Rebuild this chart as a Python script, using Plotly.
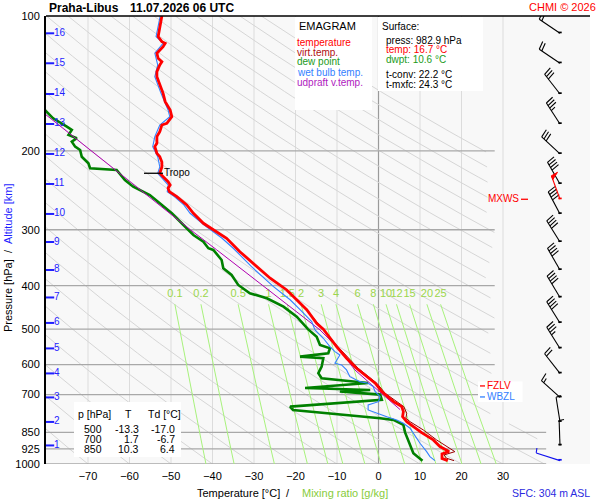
import math
import numpy as np
import plotly.graph_objects as go

FONT = "Liberation Sans, Arial, sans-serif"

# -------------------------------------------------
# sounding (p in hPa, T in deg C)
# -------------------------------------------------
temp_p = [100, 105.7, 111.2, 114.1, 115.1, 117.1, 121.1, 124.3, 126.5, 128.6, 133.1, 136.6, 141.3, 148.8,
          155.3, 162.1, 167.8, 173.6, 175.1, 181.2, 185.9, 192.4, 195.7, 202.5, 206.1, 211.8, 217.3, 224.4,
          228.4, 234.3, 238.3, 242.4, 246.7, 253.1, 264.1, 275.6, 290.2, 300.3, 313.4, 335.8, 356.4, 384.9,
          408.8, 429.9, 452.5, 485.0, 500, 547.1, 580.7, 611.3, 638.3, 660.3, 689.4, 700, 725.8, 744.7,
          764.1, 784.0, 804.4, 850, 883.6, 914.5, 937.4, 949.5, 971.8, 982.9]
temp_t = [-52.2, -52.7, -53.1, -52.2, -51.4, -51.9, -53.4, -53.1, -52.2, -52.7, -53.4, -53.4, -52.8, -51.9,
          -51.4, -50.2, -49.8, -51.0, -52.2, -52.7, -53.4, -53.4, -53.9, -53.4, -52.7, -52.2, -52.2, -52.7,
          -51.9, -50.7, -50.2, -50.7, -50.4, -48.6, -46.2, -44.6, -42.2, -39.8, -36.6, -33.4, -30.2, -26.1,
          -22.1, -19.7, -17.3, -14.9, -13.3, -10.1, -7.7, -5.3, -2.8, -0.8, 0.8, 1.7, 3.6, 5.6,
          6.0, 5.8, 6.8, 10.3, 13.2, 14.8, 17.0, 15.3, 15.3, 16.7]

virt_p = [429.9, 485.0, 547.1, 611.3, 660.3, 695.1, 725.8, 744.7, 770.4, 790.4, 804.4, 839.5, 883.6,
          922.2, 938.5, 954.6, 970.9, 982.9]
virt_t = [-19.4, -14.6, -9.8, -4.9, -0.4, 1.6, 4.4, 6.1, 6.8, 6.6, 7.6, 10.8, 14.0,
          17.2, 18.4, 15.8, 16.4, 18.2]

dwpt_p = [155.0, 163.5, 169.2, 176.6, 179.6, 184.3, 187.5, 190.8, 195.7, 199.1, 206.1, 213.2, 218.7,
          220.6, 232.3, 240.4, 250.9, 261.8, 275.6, 292.7, 308.2, 318.9, 329.9, 332.8, 350.4, 365.7,
          378.5, 398.4, 415.8, 426.6, 445.4, 469.0, 493.6, 500, 519.7, 542.3, 551.5, 565.9, 575.9,
          580.7, 606.3, 627.2, 643.5, 659.3, 676.4, 683.4, 688.7, 700, 719.4, 744.7, 757.5, 784.0,
          790.4, 797.3, 818.1, 850, 868.7, 914.6, 946.2, 982.9]
dwpt_t = [-82.5, -80.1, -78.4, -75.1, -73.9, -74.7, -72.7, -73.9, -73.1, -71.9, -71.5, -69.9, -69.5,
          -63.1, -61.1, -59.1, -55.1, -52.7, -49.8, -47.0, -44.6, -42.2, -41.0, -39.8, -37.8, -37.4,
          -35.4, -33.8, -31.0, -26.9, -22.9, -19.7, -17.7, -17.0, -14.9, -14.1, -11.7, -12.1, -18.9,
          -13.3, -13.7, -14.5, -13.7, -2.5, -17.7, -2.0, -9.3, 0.4, 0.8, -21.3, -20.6, -2.8,
          0.4, 3.6, 6.0, 6.4, 6.8, 7.6, 8.4, 10.6]

wetb_p = [100, 111.2, 115.1, 121.1, 128.6, 136.6, 148.8, 162.1, 167.8, 175.1, 185.9, 195.7, 206.1,
          217.3, 224.4, 238.3, 246.7, 253.1, 264.1, 275.6, 292.7, 313.4, 329.9, 362.7, 401.9, 429.9,
          452.5, 481.1, 502.1, 524.0, 547.1, 561.4, 570.9, 585.8, 595.8, 601.0, 616.6, 638.2, 654.8,
          660.3, 671.9, 689.4, 707.4, 725.8, 738.2, 757.5, 770.4, 784.0, 797.3, 810.9, 832.1, 853.7,
          898.8, 938.5, 962.8, 982.9]
wetb_t = [-52.6, -53.6, -51.9, -53.9, -53.2, -53.9, -52.4, -50.7, -50.3, -52.7, -53.9, -54.4, -53.2,
          -52.7, -53.2, -50.7, -50.9, -49.2, -46.9, -45.4, -42.0, -37.7, -35.0, -30.6, -25.3, -21.3,
          -18.9, -16.1, -15.3, -13.3, -11.7, -10.5, -9.3, -10.1, -10.5, -8.9, -7.7, -6.9, -4.5,
          -2.5, -1.3, -0.8, 0.4, 0.0, -2.5, -2.5, -0.4, 2.0, 4.4, 6.0, 7.6, 8.4,
          10.0, 11.6, 12.4, 13.6]

updr_p = [154.0, 166.3, 199.0, 257.3, 300.1, 332.6, 378.5, 429.9, 457.5, 502.1, 551.5, 616.6, 666.1,
          708.6, 756.1]
updr_t = [-84.6, -80.1, -69.5, -54.4, -45.3, -39.0, -31.2, -23.4, -19.7, -14.1, -9.7, -5.7, -1.6,
          1.6, 5.2]

# altitude marks (km) and winds at those levels
alt_km = list(range(1, 17))
alt_p = [909.0, 805.6, 710.2, 627.8, 552.1, 484.3, 424.9, 368.9, 319.5, 276.6, 237.1, 203.2, 174.2,
         149.3, 127.5, 109.3]
wind_dir = [358, 351, 312, 322, 328, 328, 329, 330, 328, 332, 330, 313, 327, 322, 304, 304]
wind_spd = [5, 5, 15, 20, 35, 40, 40, 40, 40, 40, 40, 30, 35, 30, 20, 20]

sfc_p = 982.9
sfc_wdir, sfc_wspd = 288, 5
mxws_p, mxws_dir, mxws_spd = 256.5, 340, 50

tropo_p = 224.4
fzlv_p = 669.5
wbzl_p = 708.5

sfc_press, sfc_temp, sfc_dwpt = 982.9, 16.7, 10.6
t_conv, t_mxfc = 22.2, 24.3
sfc_height = 304

tbl_p = [500, 700, 850]
tbl_t = [-13.3, 1.7, 10.3]
tbl_td = [-17.0, -6.7, 6.4]

# diagram background
p_ticks = [100, 200, 300, 400, 500, 600, 700, 850, 925, 1000]
t_ticks = list(range(-70, 31, 10))
mix_ratios = [0.1, 0.2, 0.5, 1, 1.5, 2, 3, 4, 6, 8, 10, 12, 15, 20, 25]
theta_lines = list(range(-80, 201, 10))

# -------------------------------------------------
# page geometry (pixels)
# -------------------------------------------------
L, R, TOP, BOT = 46, 590, 16, 464
T0_PX, DEG_PX = 378.5, 4.15
BARB_X, STAFF = 560, 25


def px(x):
    return (x - L) / (R - L)


def py(y):
    return (BOT - y) / (BOT - TOP)


def grid_edge(p):
    return 28.0 if p < 800 else 40.4


def td_from_w(w, p):
    e = w * p / (622.0 + w)
    a = math.log(e / 6.112)
    return 243.5 * a / (17.67 - a)


fig = go.Figure()


def add_line(x, y, color, width, xaxis="x", dash=None):
    fig.add_trace(go.Scatter(x=x, y=y, mode="lines", xaxis=xaxis, yaxis="y",
                             line=dict(color=color, width=width, dash=dash), hoverinfo="skip"))


# isotherms
xs, ys = [], []
for t in t_ticks:
    if t != 0:
        xs += [t, t, None]
        ys += [100, 1000, None]
add_line(xs, ys, "#dcdcdc", 1)
add_line([0, 0], [100, 1000], "#9a9a9a", 1.2)

# dry adiabats
p_grid = np.geomspace(100, 1000, 90)
xs, ys = [], []
for th in theta_lines:
    for p in p_grid:
        t = (th + 273.15) * (p / 1000.0) ** 0.286 - 273.15
        xs.append(t if t <= grid_edge(p) else None)
        ys.append(p)
    xs.append(None)
    ys.append(None)
add_line(xs, ys, "#d6d6d6", 1)

# isobars
xs, ys = [], []
for p in p_ticks[1:]:
    xs += [(L - T0_PX) / DEG_PX, grid_edge(p), None]
    ys += [p, p, None]
add_line(xs, ys, "#a8a8a8", 1.3)

# mixing ratio lines
mix_p = np.geomspace(440, 1000, 20)
xs, ys = [], []
for w in mix_ratios:
    xs += [td_from_w(w, p) for p in mix_p] + [None]
    ys += list(mix_p) + [None]
add_line(xs, ys, "#a8f27c", 1)
fig.add_trace(go.Scatter(
    x=[td_from_w(w, 440) for w in mix_ratios], y=[417] * len(mix_ratios),
    text=[f"{w:g}" for w in mix_ratios], mode="text", textposition="middle center",
    textfont=dict(size=11, color="#9bd64c", family=FONT), hoverinfo="skip"))

# altitude marks on the left
fig.add_trace(go.Scatter(
    x=[50] * len(alt_km), y=alt_p, xaxis="x2", mode="markers", hoverinfo="skip",
    marker=dict(symbol="line-ew", size=6, line=dict(color="#1f1fff", width=2))))
fig.add_trace(go.Scatter(
    x=[54] * len(alt_km), y=alt_p, xaxis="x2", mode="text", text=[str(k) for k in alt_km],
    textposition="middle right", textfont=dict(size=10, color="#1f1fff", family=FONT),
    hoverinfo="skip"))

# profiles
add_line(dwpt_t, dwpt_p, "#008000", 2.6)
add_line(updr_t, updr_p, "#b000b0", 1)
add_line(wetb_t, wetb_p, "#3380ff", 1.1)
add_line(virt_t, virt_p, "#990000", 1)
add_line(temp_t, temp_p, "#ff0000", 2.8)

# tropopause
add_line([144, 163], [tropo_p, tropo_p], "black", 1.3, xaxis="x2")
fig.add_trace(go.Scatter(x=[164], y=[tropo_p], xaxis="x2", mode="text", text=["Tropo"],
                         textposition="middle right", hoverinfo="skip",
                         textfont=dict(size=10, color="black", family=FONT)))

# max wind label
add_line([521, 528], [mxws_p, mxws_p], "red", 1.3, xaxis="x2")
fig.add_trace(go.Scatter(x=[519], y=[mxws_p], xaxis="x2", mode="text", text=["MXWS"],
                         textposition="middle left", hoverinfo="skip",
                         textfont=dict(size=10, color="red", family=FONT)))

# -------------------------------------------------
# wind barbs (shapes sized in pixels)
# -------------------------------------------------
shapes = []


def seg(p, x0, y0, x1, y1, color, width=1.1):
    shapes.append(dict(type="line", xref="x2", yref="y", xsizemode="pixel", ysizemode="pixel",
                       xanchor=BARB_X, yanchor=p, x0=x0, y0=y0, x1=x1, y1=y1,
                       line=dict(color=color, width=width)))


def barb(p, wdir, wspd, color):
    a = math.radians(wdir)
    sx, sy = math.sin(a), math.cos(a)
    r = math.radians(-80)
    bx = sx * math.cos(r) - sy * math.sin(r)
    by = sx * math.sin(r) + sy * math.cos(r)
    seg(p, 0, 0, STAFF * sx, STAFF * sy, color)
    n50, rest = divmod(wspd, 50)
    n10, rest = divmod(rest, 10)
    pos = STAFF
    for _ in range(n50):
        x0, y0 = pos * sx, pos * sy
        x1, y1 = (pos - 4) * sx, (pos - 4) * sy
        xa, ya = x0 + 7 * bx, y0 + 7 * by
        shapes.append(dict(type="path", xref="x2", yref="y", xsizemode="pixel", ysizemode="pixel",
                           xanchor=BARB_X, yanchor=p, fillcolor=color, line=dict(color=color, width=1),
                           path=f"M{x0:.2f},{y0:.2f} L{xa:.2f},{ya:.2f} L{x1:.2f},{y1:.2f} Z"))
        pos -= 5
    for _ in range(n10):
        x0, y0 = pos * sx, pos * sy
        seg(p, x0, y0, x0 + 8.5 * bx, y0 + 8.5 * by, color)
        pos -= 3
    if rest >= 5:
        x0, y0 = pos * sx, pos * sy
        seg(p, x0, y0, x0 + 5 * bx, y0 + 5 * by, color)
    shapes.append(dict(type="rect", xref="x2", yref="y", xsizemode="pixel", ysizemode="pixel",
                       xanchor=BARB_X, yanchor=p, x0=-1.7, x1=1.7, y0=-1.7, y1=1.7,
                       fillcolor=color, line=dict(width=0)))


for p, d, s in zip(alt_p, wind_dir, wind_spd):
    barb(p, d, s, "black")
barb(mxws_p, mxws_dir, mxws_spd, "#ff0000")
barb(sfc_p, sfc_wdir, sfc_wspd, "#1010ee")

# top frame
shapes.append(dict(type="line", xref="paper", yref="paper", x0=0, x1=1, y0=1, y1=1,
                   line=dict(color="black", width=1.5)))

# white boxes
for x0, y0, x1, y1 in [(295, 17, 372, 110), (378, 17, 483, 91), (74, 402, 181, 457), (478, 381.5, 522.5, 402)]:
    shapes.append(dict(type="rect", xref="paper", yref="paper", x0=px(x0), x1=px(x1),
                       y0=py(y1), y1=py(y0), fillcolor="white", line=dict(width=0), layer="above"))

# freezing level marks
for p, c in [(fzlv_p, "#ff0000"), (wbzl_p, "#3380ff")]:
    shapes.append(dict(type="line", xref="x2", yref="y", x0=480, x1=485, y0=p, y1=p,
                       line=dict(color=c, width=1.3)))

# -------------------------------------------------
# texts
# -------------------------------------------------
ann = []


def label(text, x, y, size=10, color="black", xanchor="left", angle=0):
    ann.append(dict(text=text, x=px(x), y=py(y), xref="paper", yref="paper",
                    xanchor=xanchor, yanchor="middle", showarrow=False, textangle=angle,
                    borderpad=0, font=dict(size=size, color=color, family=FONT)))


label("<b>Praha-Libus</b>", 48, 8, size=12)
label("<b>11.07.2026 06 UTC</b>", 129, 8, size=12)
label("CHMI © 2026", 597, 7, size=11, color="#ff0000", xanchor="right")

label("Temperature [°C]", 196, 493, size=11)
label("/", 288, 493, size=11, xanchor="center")
label("Mixing ratio [g/kg]", 301, 493, size=11, color="#88cc3c")
label(f"SFC: {sfc_height} m ASL", 591, 493, size=10.5, color="#2a2ae0", xanchor="right")

label("Pressure [hPa]", 8, 296, size=11, xanchor="center", angle=-90)
label("/", 8, 251, size=11, xanchor="center", angle=-90)
label("Altitude [km]", 8, 214, size=11, xanchor="center", angle=-90, color="#1f1fff")

label("EMAGRAM", 298, 26, size=11)
legend_items = [("temperature", "#ff0000"), ("virt.temp.", "#b01010"), ("dew point", "#1a9a1a"),
                ("wet bulb temp.", "#3380ff"), ("udpraft v.temp.", "#b020c0")]
for i, (txt, col) in enumerate(legend_items):
    label(txt, 296, 42 + 10 * i, size=10, color=col)

label("Surface:", 381, 27, size=10)
label(f"press: {sfc_press} hPa", 385, 40, size=10)
label(f"temp: {sfc_temp} °C", 385, 50, size=10, color="#ff0000")
label(f"dwpt: {sfc_dwpt} °C", 385, 60, size=10, color="#1a9a1a")
label(f"t-conv: {t_conv} °C", 385, 74.5, size=10)
label(f"t-mxfc: {t_mxfc} °C", 385, 84, size=10)

label("p [hPa]", 77, 413.5, size=10.5)
label("T", 128, 413.5, size=10.5, xanchor="center")
label("Td [°C]", 147, 413.5, size=10.5)
for i, (p, t, td) in enumerate(zip(tbl_p, tbl_t, tbl_td)):
    yy = 428.5 + 10 * i
    label(str(p), 103, yy, size=10.5, xanchor="right")
    label(f"{t:.1f}", 140, yy, size=10.5, xanchor="right")
    label(f"{td:.1f}", 176, yy, size=10.5, xanchor="right")

for txt, p, c in [("FZLV", fzlv_p, "#ff0000"), ("WBZL", wbzl_p, "#3380ff")]:
    ann.append(dict(text=txt, x=px(486), y=math.log10(p), xref="paper", yref="y", xanchor="left",
                    yanchor="middle", showarrow=False, borderpad=0,
                    font=dict(size=10, color=c, family=FONT)))

fig.update_layout(
    width=600, height=500,
    margin=dict(l=L, r=600 - R, t=TOP, b=500 - BOT),
    paper_bgcolor="white", plot_bgcolor="#f8f8f8",
    font=dict(family=FONT, size=11, color="black"),
    showlegend=False, hovermode=False,
    xaxis=dict(range=[(L - T0_PX) / DEG_PX, (R - T0_PX) / DEG_PX], tickvals=t_ticks,
               showgrid=False, zeroline=False, showline=False, ticks="", fixedrange=True,
               tickfont=dict(size=11), ticklabelstandoff=4),
    xaxis2=dict(range=[L, R], overlaying="x", anchor="y", visible=False, fixedrange=True),
    yaxis=dict(type="log", range=[3, 2], tickvals=p_ticks, ticktext=[str(p) for p in p_ticks],
               showgrid=False, zeroline=False, showline=True, linecolor="black", linewidth=2,
               ticks="", fixedrange=True, tickfont=dict(size=11), ticklabelstandoff=2),
    shapes=shapes,
    annotations=ann,
)

# the page body has a default 8px margin; drop it so the figure sits at the window origin
fig.write_html("out.html", config={"displayModeBar": False},
               post_script="document.body.style.margin='0px';")
